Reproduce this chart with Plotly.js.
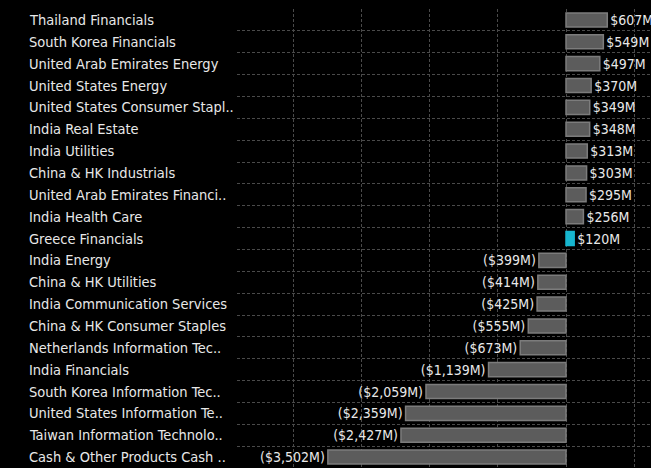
<!DOCTYPE html>
<html>
<head>
<meta charset="utf-8">
<script src="https://cdn.plot.ly/plotly-3.0.1.min.js"></script>
<style>html,body{margin:0;padding:0;background:#000;}#chart{width:651px;height:468px;}</style>
</head>
<body>
<div id="chart"></div>
<script>
const categories = [
  "Thailand Financials",
  "South Korea Financials",
  "United Arab Emirates Energy",
  "United States Energy",
  "United States Consumer Stapl..",
  "India Real Estate",
  "India Utilities",
  "China & HK Industrials",
  "United Arab Emirates Financi..",
  "India Health Care",
  "Greece Financials",
  "India Energy",
  "China & HK Utilities",
  "India Communication Services",
  "China & HK Consumer Staples",
  "Netherlands Information Tec..",
  "India Financials",
  "South Korea Information Tec..",
  "United States Information Te..",
  "Taiwan Information Technolo..",
  "Cash & Other Products Cash .."
];
const values = [607, 549, 497, 370, 349, 348, 313, 303, 295, 256, 120, -399, -414, -425, -555, -673, -1139, -2059, -2359, -2427, -3502];
const highlight = "Greece Financials";

const fmt = v => Math.abs(v).toLocaleString('en-US');
const labels = values.map(v => v >= 0 ? '$' + fmt(v) + 'M' : '($' + fmt(v) + 'M)');
const fills = categories.map(c => c === highlight ? '#17b6cf' : '#5c5c5c');
const borders = categories.map(c => c === highlight ? '#17b6cf' : '#7c7c7c');

const font = 'DejaVu Sans Condensed, DejaVu Sans, sans-serif';

const traces = [
  {
    type: 'bar', orientation: 'h',
    x: values, y: categories,
    text: labels, textposition: 'outside', constraintext: 'none',
    textfont: {family: font, size: 14, color: '#e8e8e8'},
    marker: {color: fills, line: {color: borders, width: 1.5}},
    hoverinfo: 'none'
  },
  {
    type: 'scatter', mode: 'markers', x: [0], y: [0], yaxis: 'y2',
    marker: {opacity: 0}, hoverinfo: 'none', showlegend: false
  }
];

const annotations = categories.map(c => ({
  x: 0, xref: 'paper', xanchor: 'left', xshift: -210,
  y: c, yref: 'y', yanchor: 'middle',
  text: c, showarrow: false,
  font: {family: font, size: 14.5, color: '#e8e8e8'}
}));

const n = categories.length;
const layout = {
  width: 651, height: 468,
  paper_bgcolor: '#000', plot_bgcolor: '#000',
  margin: {l: 237, r: 0, t: 9, b: 0},
  showlegend: false,
  bargap: 0.355,
  xaxis: {
    range: [-4838, 1250], tick0: 0, dtick: 1000,
    showgrid: true, gridcolor: '#4a4a4a', griddash: '3px,2px', gridwidth: 1,
    zeroline: false, showticklabels: false, ticks: '', showline: false, fixedrange: true
  },
  yaxis: {
    type: 'category', range: [n - 0.5, -0.5],
    showgrid: false, zeroline: false, showticklabels: false, ticks: '', showline: false
  },
  yaxis2: {
    overlaying: 'y', range: [n - 0.5, -0.5], tick0: 0.5, dtick: 1,
    showgrid: true, gridcolor: '#4a4a4a', griddash: '3px,2px', gridwidth: 1,
    zeroline: false, showticklabels: false, ticks: '', showline: false
  },
  annotations: annotations
};

Plotly.newPlot('chart', traces, layout, {displayModeBar: false, staticPlot: true});
</script>
</body>
</html>
